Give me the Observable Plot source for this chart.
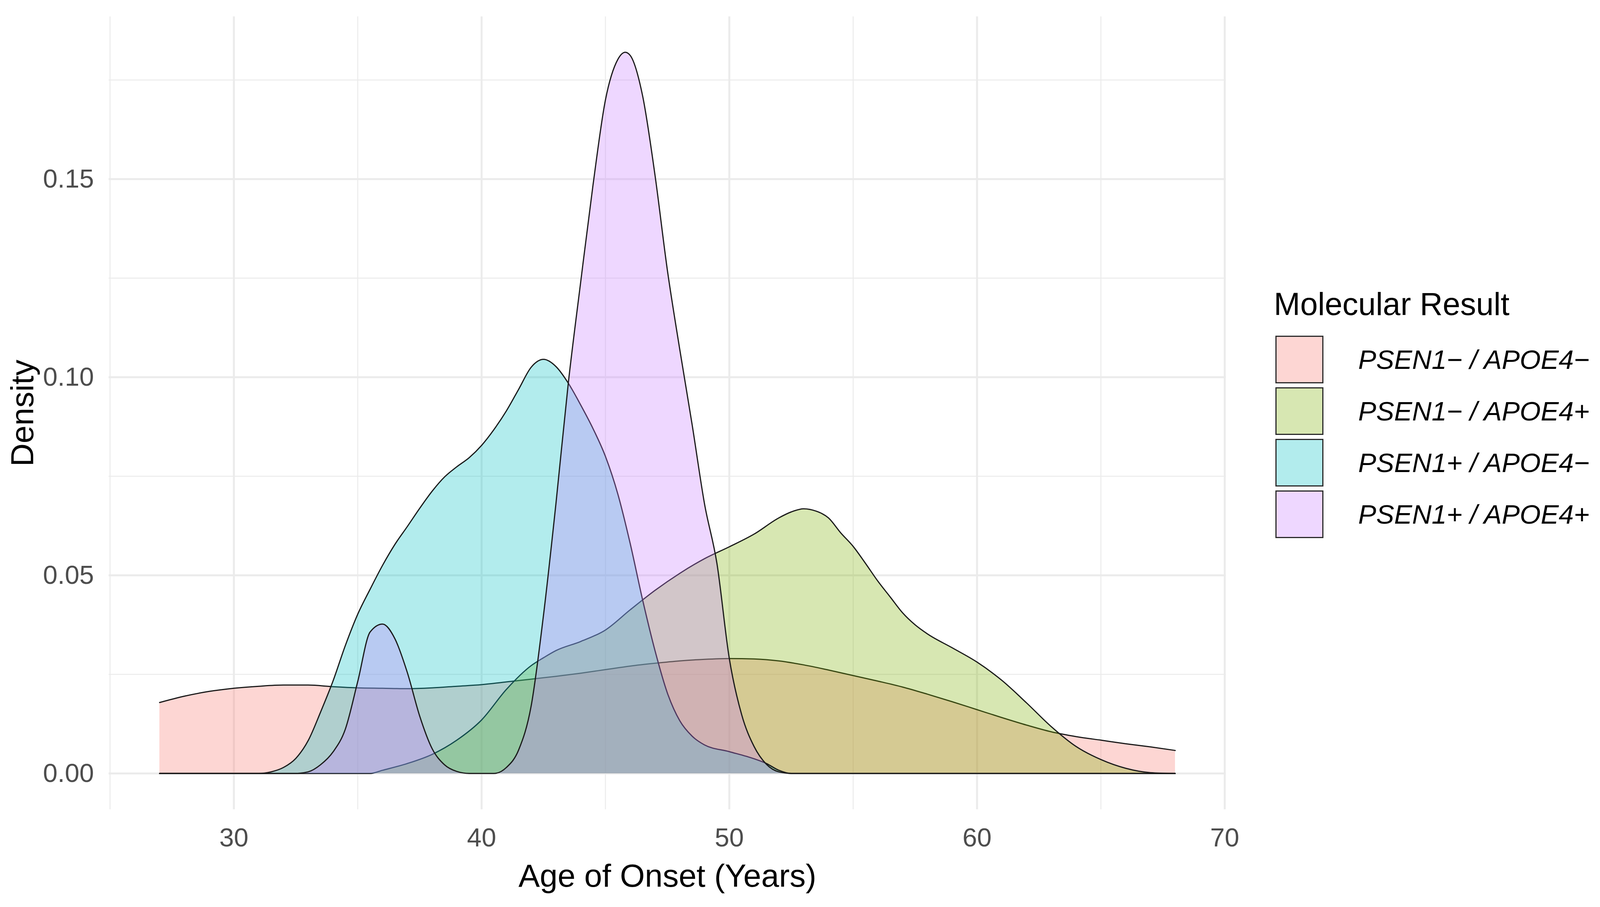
<!DOCTYPE html>
<html>
<head>
<meta charset="utf-8">
<script src="https://cdn.jsdelivr.net/npm/d3@7"></script>
<script src="https://cdn.jsdelivr.net/npm/@observablehq/plot@0.6"></script>
<style>
  html, body { margin: 0; padding: 0; background: #ffffff; overflow: hidden; font-family: "Liberation Sans", Arial, sans-serif; }
  #wrap { position: relative; width: 4096px; height: 2321px; background: #ffffff; overflow: hidden; }
  #chart { position: absolute; left: 0; top: 0; }
  #legend { position: absolute; left: 3261px; top: 737px; color: #000; }
  #legend .title { font-size: 81px; line-height: 82px; margin-bottom: 35px; white-space: nowrap; }
  #legend .row { display: flex; align-items: center; height: 132px; }
  #legend .key { width: 123px; height: 122px; margin-left: 4px; box-sizing: border-box; border: 3px solid #2b2b2b; }
  #legend .lab { margin-left: 89px; font-size: 69px; font-style: italic; white-space: nowrap; }
</style>
</head>
<body>
<div id="wrap"><div id="chart"></div><div id="legend"></div></div>
<script>
// ---- data ----
const groups = ["PSEN1\u2212 / APOE4\u2212", "PSEN1\u2212 / APOE4+", "PSEN1+ / APOE4\u2212", "PSEN1+ / APOE4+"];
const colors = ["#F8766D", "#7CAE00", "#00BFC4", "#C77CFF"];

const pinkAge = [27,28,29,30,31,32,33,34,35,36,37,38,39,40,41,42,43,44,45,46,47,48,49,50,51,52,53,54,55,56,57,58,59,60,61,62,63,64,65,66,67,68];
const pinkDensity = [0.0179,0.0195,0.0207,0.0215,0.0220,0.0223,0.0223,0.0219,0.0216,0.0215,0.0214,0.0216,0.0220,0.0224,0.0231,0.0238,0.0245,0.0253,0.0262,0.0271,0.0278,0.0284,0.0288,0.0290,0.0289,0.0284,0.0274,0.0261,0.0247,0.0233,0.0218,0.0200,0.0181,0.0161,0.0141,0.0122,0.0105,0.0093,0.0084,0.0075,0.0067,0.0058];

const oliveAge = [27,35,35.5,36,37,38,39,40,41,42,42.5,43,44,45,46,47,48,49,50,51,52,52.5,53,53.5,54,54.5,55,55.5,56,56.5,57,57.5,58,59,60,61,62,63,64,65,66,67,68];
const oliveDensity = [0,0,0,0.0008,0.0025,0.0048,0.0084,0.0135,0.0212,0.0272,0.0292,0.0310,0.0333,0.0362,0.0413,0.0462,0.0505,0.0542,0.0572,0.0604,0.0645,0.0660,0.0668,0.0662,0.0645,0.0607,0.0573,0.0530,0.0485,0.0445,0.0405,0.0375,0.0352,0.0317,0.0281,0.0235,0.0178,0.0118,0.0068,0.0035,0.0013,0.0002,0];

const cyanAge = [27,31,31.5,32,32.5,33,33.5,34,34.5,35,35.5,36,36.5,37,37.5,38,38.5,39,39.5,40,40.5,41,41.5,42,42.5,43,43.5,44,44.5,45,45.5,46,46.5,47,47.5,48,48.5,49,50,51,51.5,52,52.5,68];
const cyanDensity = [0,0,0.0004,0.0015,0.0038,0.0083,0.0155,0.0233,0.0323,0.0402,0.0465,0.0525,0.0578,0.0623,0.0669,0.0712,0.0748,0.0774,0.0797,0.0828,0.0868,0.0915,0.0970,0.1025,0.1045,0.1027,0.0985,0.0930,0.0870,0.0800,0.0705,0.0580,0.0438,0.0310,0.0203,0.0133,0.0094,0.0072,0.0055,0.0037,0.0025,0.0008,0,0];

const purpleAge = [27,32.5,33,33.5,34,34.5,35,35.5,36,36.5,37,37.5,38,38.5,39,39.5,40.5,41,41.5,42,42.5,43,43.5,44,44.5,45,45.5,45.8,46,46.5,47,47.5,48,48.5,49,49.5,50,50.5,51,51.5,52,52.5,68];
const purpleDensity = [0,0,0.0004,0.0022,0.0054,0.0112,0.0232,0.0357,0.0377,0.0340,0.0255,0.0145,0.0063,0.0022,0.0005,0,0,0.0015,0.0060,0.0170,0.0400,0.0680,0.0985,0.1240,0.1486,0.1700,0.1802,0.1820,0.1812,0.1710,0.1510,0.1270,0.1070,0.0880,0.0680,0.0530,0.0290,0.0148,0.0068,0.0023,0.0004,0,0];

const xTicks = [30, 40, 50, 60, 70];
const xMinor = [25, 35, 45, 55, 65];
const yTicks = [0, 0.05, 0.10, 0.15];
const yMinor = [0.025, 0.075, 0.125, 0.175];

// ---- build tables ----
const series = [[pinkAge, pinkDensity], [oliveAge, oliveDensity], [cyanAge, cyanDensity], [purpleAge, purpleDensity]];
const tables = series.map(([ages, dens], i) => ages.map((a, j) => ({group: groups[i], age: a, density: dens[j]})));

const densityMarks = tables.flatMap(rows => [
  Plot.areaY(rows, {x: "age", y: "density", fill: "group", fillOpacity: 0.3, curve: "monotone-x"}),
  Plot.lineY(rows, {x: "age", y: "density", stroke: "#1a1a1a", strokeWidth: 3, curve: "monotone-x"})
]);

const chart = Plot.plot({
  width: 3236,
  height: 2321,
  marginLeft: 278,
  marginRight: 98,
  marginTop: 42,
  marginBottom: 250,
  style: {fontFamily: "'Liberation Sans', Arial, sans-serif", fontSize: "66px", background: "#ffffff"},
  x: {domain: [24.95, 70.05]},
  y: {domain: [-0.0091, 0.191]},
  color: {domain: groups, range: colors},
  marks: [
    Plot.ruleY(yMinor, {stroke: "#EBEBEB", strokeWidth: 2.5}),
    Plot.ruleX(xMinor, {stroke: "#EBEBEB", strokeWidth: 2.5}),
    Plot.ruleY(yTicks, {stroke: "#EBEBEB", strokeWidth: 5}),
    Plot.ruleX(xTicks, {stroke: "#EBEBEB", strokeWidth: 5}),
    ...densityMarks,
    Plot.axisX({ticks: xTicks, tickSize: 0, tickPadding: 47, fontSize: 67, color: "#4D4D4D", label: null, tickFormat: d3.format("d")}),
    Plot.axisY({ticks: yTicks, tickSize: 0, tickPadding: 38, fontSize: 67, color: "#4D4D4D", label: null, tickFormat: d3.format(".2f")}),
    Plot.text(["Age of Onset (Years)"], {frameAnchor: "bottom", dy: 197, lineAnchor: "bottom", textAnchor: "middle", fontSize: 82, fill: "#000"}),
    Plot.text(["Density"], {frameAnchor: "left", dx: -220, rotate: -90, lineAnchor: "middle", textAnchor: "middle", fontSize: 82, fill: "#000"})
  ]
});
document.getElementById("chart").appendChild(chart);

// ---- legend ----
const legend = d3.select("#legend");
legend.append("div").attr("class", "title").text("Molecular Result");
groups.forEach((g, i) => {
  const row = legend.append("div").attr("class", "row");
  const c = d3.color(colors[i]); c.opacity = 0.3;
  row.append("div").attr("class", "key").style("background", c.formatRgb());
  row.append("div").attr("class", "lab").text(g);
});
</script>
</body>
</html>
